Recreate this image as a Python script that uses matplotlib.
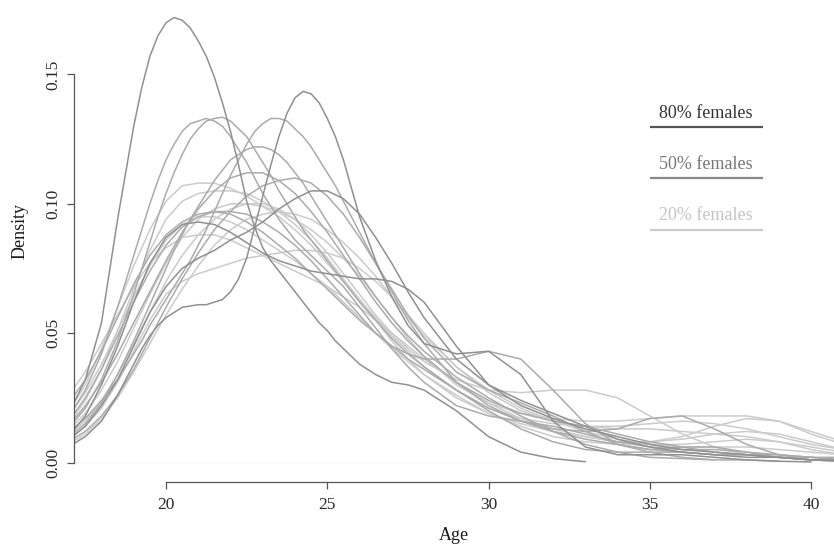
import numpy as np
import matplotlib
matplotlib.use("Agg")
import matplotlib.pyplot as plt

nan = np.nan
# coarse age grid (broad curves)
ages = [17.1, 17.5, 18, 18.5, 19, 19.5, 20, 20.5, 21, 21.5, 22, 22.5, 23, 23.5,
        24, 24.5, 25, 25.5, 26, 26.5, 27, 27.5, 28, 29, 30, 31, 32, 33, 34, 35,
        36, 37, 38, 39, 40, 41]
# fine age grid (sharply peaked curves)
ages_fine = [17.1, 17.5, 18, 18.5,
             19, 19.25, 19.5, 19.75, 20, 20.25, 20.5, 20.75, 21, 21.25, 21.5, 21.75,
             22, 22.25, 22.5, 22.75, 23, 23.25, 23.5, 23.75, 24, 24.25, 24.5, 24.75,
             25, 25.25, 25.5, 25.75, 26,
             26.5, 27, 27.5, 28, 29, 30, 31, 32, 33, 34, 35, 36, 37, 38, 39, 40, 41]

# ---- 80% females group ----
f80_a = [.022, .032, .054, .094,
         .130, .145, .157, .165, .170, .172, .171, .168, .163, .157, .149, .139,
         .128, .115, .101, .091, .083, .078, .074, .070, .066, .062, .058, .054,
         .051, .047, .044, .041, .038,
         .034, .031, .030, .028, .020, .010, .004, .0015, .0003, nan, nan, nan, nan, nan, nan, nan, nan]
f80_b = [.007, .010, .016, .026,
         .038, .044, .049, .053, .056, .058, .060, .0605, .061, .061, .062, .063,
         .066, .071, .079, .091, .103, .115, .126, .135, .141, .1435, .1425, .139,
         .133, .126, .117, .106, .095,
         .078, .064, .053, .046, .042, .043, .034, .016, .006, .003, .003, .003, .002, .001, .0005, .0002, nan]
f80_c = [.012, .018, .030, .045, .062, .077, .087, .092, .093, .092, .089, .085, .081, .078,
         .076, .074, .073, .072, .071, .071, .070, .067, .062, .045, .030, .022, .017, .013, .010, .007,
         .005, .004, .003, .002, .001, .0005]
f80_d = [.010, .014, .022, .032, .045, .058, .068, .075, .079, .082, .086, .089, .093, .098,
         .102, .105, .105, .102, .096, .087, .077, .066, .056, .040, .030, .024, .019, .014, .009, .006,
         .004, .003, .002, .002, .001, .001]

# ---- 50% females group ----
f50_a = [.013, .017, .024, .032,
         .042, .047, .053, .058, .063, .068, .073, .078, .084, .090, .097, .104,
         .111, .117, .123, .128, .131, .133, .133, .132, .129, .126, .122, .117,
         .112, .107, .101, .095, .089,
         .077, .066, .055, .046, .031, .022, .016, .012, .009, .007, .005, .004, .003, .003, .002, .002, .001]
f50_b = [.020, .028, .042, .060,
         .080, .090, .100, .109, .117, .123, .128, .131, .132, .133, .132, .130,
         .126, .121, .116, .110, .104, .099, .094, .090, .086, .083, .080, .077,
         .074, .071, .068, .064, .060,
         .052, .044, .037, .031, .022, .018, .016, .014, .011, .008, .006, .005, .005, .004, .003, .002, .001]
f50_c = [.015, .021, .032, .047,
         .065, .075, .085, .095, .104, .112, .119, .125, .129, .132, .133, .1335,
         .132, .129, .126, .121, .116, .111, .105, .100, .095, .090, .086, .082,
         .078, .074, .070, .066, .062,
         .055, .048, .042, .037, .028, .020, .013, .008, .005, .004, .004, .004, .003, .003, .002, .001, .001]
f50_d = [.011, .015, .023, .034,
         .047, .054, .061, .068, .075, .082, .088, .094, .099, .104, .109, .113,
         .117, .119, .121, .122, .122, .121, .119, .116, .112, .108, .103, .098,
         .093, .088, .083, .078, .073,
         .064, .056, .049, .043, .033, .025, .018, .012, .007, .004, .002, .0015, .001, .001, .0005, nan, nan]
f50_e = [.016, .022, .031, .042, .054, .066, .078, .089, .098, .105, .110, .112, .112, .109,
         .104, .097, .089, .080, .071, .062, .054, .047, .041, .031, .024, .019, .016, .014, .011, .008,
         .006, .004, .003, .003, .002, .002]
f50_f = [.009, .012, .018, .026, .036, .048, .060, .071, .081, .090, .097, .103, .107, .109,
         .110, .108, .103, .096, .087, .077, .067, .057, .048, .035, .028, .023, .018, .012, .007, .004,
         .002, .001, nan, nan, nan, nan]
f50_g = [.018, .025, .036, .049, .062, .074, .084, .091, .095, .097, .097, .096, .093, .089,
         .084, .078, .071, .064, .057, .050, .045, .042, .040, .040, .043, .040, .028, .015, .007, .005,
         .006, .006, .004, .002, .001, .0005]
f50_h = [.025, .032, .043, .056, .069, .080, .088, .093, .096, .097, .096, .093, .089, .084,
         .079, .073, .067, .061, .055, .050, .045, .040, .036, .028, .021, .016, .013, .012, .013, .017,
         .018, .013, .007, .003, .001, .0005]

# ---- 20% females group ----
f20_a = [.022, .030, .044, .060, .076, .090, .101, .107, .108, .108, .106, .103, .099, .095,
         .090, .084, .077, .070, .063, .056, .049, .043, .037, .028, .021, .017, .015, .014, .013, .013,
         .012, .011, .010, .008, .005, .003]
f20_b = [.014, .019, .028, .039, .052, .065, .077, .087, .094, .098, .100, .100, .099, .097,
         .094, .090, .085, .079, .072, .064, .056, .048, .041, .030, .023, .019, .017, .016, .016, .017,
         .018, .018, .018, .016, .011, .007]
f20_c = [.010, .014, .021, .031, .043, .055, .065, .070, .073, .075, .077, .079, .080, .081,
         .082, .082, .081, .079, .075, .070, .064, .057, .050, .037, .027, .020, .016, .014, .014, .015,
         .016, .015, .013, .010, .007, .005]
f20_d = [.017, .024, .036, .051, .067, .082, .094, .101, .104, .105, .105, .104, .101, .097,
         .092, .086, .079, .071, .063, .055, .047, .040, .034, .025, .019, .015, .012, .010, .008, .007,
         .007, .008, .009, .008, .006, .004]
f20_e = [.008, .011, .017, .025, .035, .046, .057, .067, .076, .084, .090, .094, .096, .097,
         .096, .094, .090, .085, .079, .072, .064, .056, .049, .037, .028, .021, .016, .012, .009, .007,
         .006, .006, .006, .005, .004, .003]
f20_f = [.028, .035, .046, .057, .068, .077, .083, .087, .088, .088, .086, .083, .080, .077,
         .074, .071, .068, .064, .060, .055, .050, .045, .040, .031, .023, .017, .013, .010, .008, .008,
         .009, .011, .012, .011, .008, .005]
f20_g = [.012, .016, .024, .034, .046, .058, .070, .080, .088, .094, .098, .100, .100, .098,
         .094, .088, .081, .073, .065, .057, .050, .044, .039, .032, .028, .027, .028, .028, .025, .018,
         .011, .006, .003, .002, .001, nan]
f20_h = [.020, .027, .038, .051, .064, .076, .086, .092, .095, .095, .093, .090, .086, .082,
         .078, .073, .068, .062, .056, .050, .044, .039, .034, .026, .019, .014, .010, .008, .007, .008,
         .010, .014, .017, .016, .012, .008]

groups = [
    ("20% females", [f20_a, f20_b, f20_c, f20_d, f20_e, f20_f, f20_g, f20_h], "#cbcbcb", "#cccccc", "#c4c4c4"),
    ("50% females", [f50_a, f50_b, f50_c, f50_d, f50_e, f50_f, f50_g, f50_h], "#ababab", "#888888", "#777777"),
    ("80% females", [f80_a, f80_b, f80_c, f80_d], "#909090", "#555555", "#333333"),
]

plt.rcParams['font.family'] = ['Liberation Serif', 'DejaVu Serif']

W, H = 834, 545
fig = plt.figure(figsize=(W / 100, H / 100), dpi=100)
left_px, bottom_px = 73.5, 462.5
ax = fig.add_axes([left_px / W, (H - bottom_px) / H, (W - left_px) / W, bottom_px / H])

ax.axhline(0, color="#e4e4e4", lw=1.0, zorder=0)
for name, curves, col, lcol, tcol in groups:
    for c in curves:
        xs = ages_fine if len(c) == len(ages_fine) else ages
        ax.plot(xs, c, color=col, lw=1.1, solid_joinstyle="round", solid_capstyle="round")

ax.set_xlim(17.133, 40.707)
ax.set_ylim(0, 0.1788)

for s in ["top", "right"]:
    ax.spines[s].set_visible(False)
ax.spines["left"].set_bounds(0, 0.15)
ax.spines["bottom"].set_bounds(20, 40)
ax.spines["bottom"].set_position(("outward", 14))
for s in ["left", "bottom"]:
    ax.spines[s].set_color("#555555")
    ax.spines[s].set_linewidth(0.9)

ax.set_yticks([0, 0.05, 0.10, 0.15])
ax.set_yticklabels(["0.00", "0.05", "0.10", "0.15"], rotation=90, va="center")
ax.set_xticks([20, 25, 30, 35, 40])
ax.set_xticklabels(["20", "25", "30", "35", "40"])
ax.tick_params(axis="both", colors="#555555", labelcolor="#2a2a2a", labelsize=12.5,
               length=5, width=0.9)
ax.tick_params(axis="y", pad=4)
ax.tick_params(axis="x", pad=6)

ax.set_ylabel("Density", fontsize=13, color="#1a1a1a", labelpad=12)
ax.set_xlabel("Age", fontsize=13, color="#1a1a1a", labelpad=10)

# legend drawn as labelled lines
leg_y = {"80% females": (0.1351, 0.1297), "50% females": (0.1152, 0.1100), "20% females": (0.0953, 0.0899)}
for name, curves, col, lcol, tcol in groups:
    ty, ly = leg_y[name]
    ax.plot([35.0, 38.5], [ly, ly], color=lcol, lw=1.6, solid_capstyle="butt")
    ax.text(36.72, ty, name, ha="center", va="center", fontsize=13, color=tcol)

fig.savefig("out.png", dpi=100)
